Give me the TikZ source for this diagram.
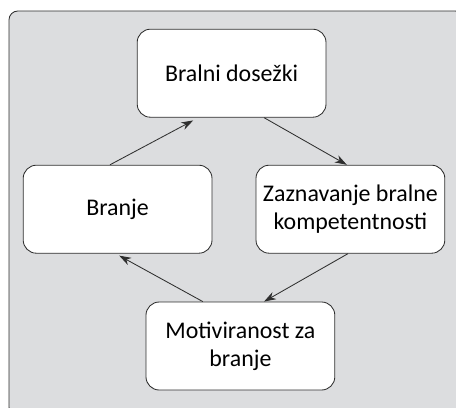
\documentclass[tikz,border=0pt]{standalone}
\usepackage{fontspec}
\setmainfont{Carlito}
\usetikzlibrary{arrows.meta}
\definecolor{panelgray}{HTML}{DCDDDF}
\definecolor{linegray}{HTML}{2E2E2E}
\tikzset{
  stage/.style={draw=linegray, fill=white, rounded corners=0.33cm, line width=0.6pt,
    minimum width=4.72cm, minimum height=2.2cm, align=center,
    font=\fontsize{17}{20}\selectfont},
  flow/.style={draw=linegray, line width=0.6pt, -{Stealth[length=0.3cm,width=0.2cm]}}
}
\begin{document}
\begin{tikzpicture}
\useasboundingbox (0,0) rectangle (11.4,-10.175);
\clip (0,0) rectangle (11.4,-10.175);
\path[draw=linegray, fill=panelgray, rounded corners=0.22cm, line width=0.6pt] (0.225,-0.275) rectangle (11.6,-10.4);

\node[stage] (dosezki) at (5.79,-1.83) {Bralni dosežki};
\node[stage] (branje) at (2.94,-5.23) {Branje};
\node[stage] (zaznavanje) at (8.76,-5.23) {Zaznavanje bralne\\kompetentnosti};
\node[stage] (motiviranost) at (6.01,-8.65) {Motiviranost za\\branje};

\path[flow] ([xshift=-0.19cm]branje.north) -- ([xshift=-0.96cm,yshift=-0.07cm]dosezki.south);
\path[flow] ([xshift=0.81cm]dosezki.south) -- ([xshift=-0.09cm]zaznavanje.north);
\path[flow] ([xshift=-0.06cm]zaznavanje.south) -- ([xshift=0.59cm]motiviranost.north);
\path[flow] ([xshift=-0.94cm]motiviranost.north) -- ([xshift=0.04cm,yshift=-0.05cm]branje.south);
\end{tikzpicture}
\end{document}
